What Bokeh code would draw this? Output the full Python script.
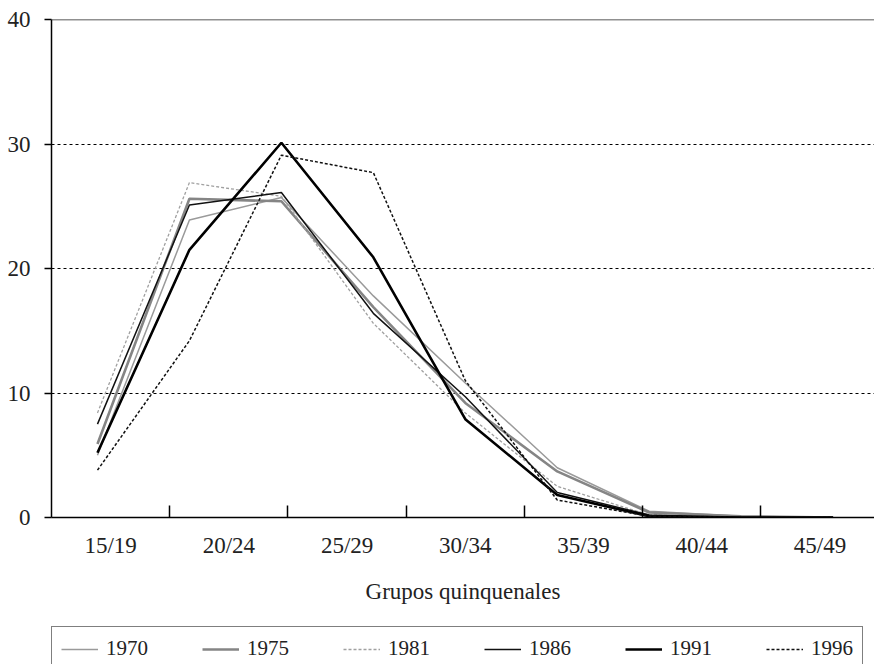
from bokeh.plotting import figure
from bokeh.layouts import column
from bokeh.models import Range1d, FixedTicker, Legend, LegendItem, Span
from bokeh.embed import file_html
from bokeh.resources import INLINE

# ---- data ----
age_groups = ["15/19", "20/24", "25/29", "30/34", "35/39", "40/44", "45/49"]
series_names = ["1970", "1975", "1981", "1986", "1991", "1996"]
y_1970 = [5.0, 23.9, 25.7, 17.8, 10.8, 4.0, 0.5, 0.1, 0.0]
y_1975 = [5.9, 25.6, 25.4, 16.9, 9.2, 3.7, 0.4, 0.1, 0.0]
y_1981 = [8.4, 26.9, 25.8, 15.6, 8.4, 2.5, 0.2, 0.0, 0.0]
y_1986 = [7.5, 25.1, 26.1, 16.4, 9.7, 2.0, 0.2, 0.0, 0.0]
y_1991 = [5.2, 21.5, 30.1, 20.9, 7.9, 1.8, 0.1, 0.0, 0.0]
y_1996 = [3.8, 14.2, 29.1, 27.7, 11.0, 1.4, 0.1, 0.0, 0.0]
y_ticks = [0, 10, 20, 30, 40]

FONT = "Liberation Serif"
n_pts = len(y_1970)
n_cat = len(age_groups)
band = n_pts / n_cat
xs = list(range(n_pts))

p = figure(width=874, height=620, output_backend="svg", toolbar_location=None,
           x_range=Range1d(-0.5, 8.45), y_range=Range1d(0, 40),
           min_border_left=51, min_border_right=0, min_border_top=19,
           min_border_bottom=103)
p.outline_line_color = None
p.background_fill_color = "white"
p.border_fill_color = "white"

# grid
p.xgrid.grid_line_color = None
p.ygrid.ticker = FixedTicker(ticks=[10, 20, 30])
p.ygrid.grid_line_color = "black"
p.ygrid.grid_line_dash = "3 3"
p.ygrid.grid_line_width = 1
p.add_layout(Span(location=40, dimension="width", line_color="#222222", line_width=1.5))

# y axis
p.yaxis.ticker = FixedTicker(ticks=y_ticks)
p.yaxis.minor_tick_line_color = None
p.yaxis.major_tick_in = 0
p.yaxis.major_tick_out = 7
p.yaxis.axis_line_width = 1.5
p.yaxis.major_tick_line_width = 1.5
p.yaxis.major_label_standoff = 14
p.yaxis.major_label_text_font = FONT
p.yaxis.major_label_text_font_size = "23px"
p.yaxis.major_label_text_color = "#222222"

# x axis: labels at band centres, tick marks at band boundaries
centers = [-0.5 + band * (j + 0.5) for j in range(n_cat)]
bounds = [-0.5 + band * j for j in range(1, n_cat + 1)]
p.xaxis.ticker = FixedTicker(ticks=centers, minor_ticks=bounds)
p.xaxis.major_label_overrides = {c: lab for c, lab in zip(centers, age_groups)}
p.xaxis.major_tick_in = 0
p.xaxis.major_tick_out = 0
p.xaxis.minor_tick_in = 12
p.xaxis.minor_tick_out = 0
p.xaxis.minor_tick_line_color = "black"
p.xaxis.minor_tick_line_width = 1.5
p.xaxis.axis_line_width = 1.5
p.xaxis.major_label_standoff = 15
p.xaxis.major_label_text_font = FONT
p.xaxis.major_label_text_font_size = "23px"
p.xaxis.major_label_text_color = "#222222"
p.xaxis.axis_label = "Grupos quinquenales"
p.xaxis.axis_label_text_font = FONT
p.xaxis.axis_label_text_font_style = "normal"
p.xaxis.axis_label_text_font_size = "23px"
p.xaxis.axis_label_text_color = "#222222"
p.xaxis.axis_label_standoff = 18

series = [y_1970, y_1975, y_1981, y_1986, y_1991, y_1996]
styles = [
    ("#9a9a9a", 1.5, "solid"),
    ("#858585", 2.6, "solid"),
    ("#a0a0a0", 1.3, "3 2"),
    ("#111111", 1.5, "solid"),
    ("#000000", 2.6, "solid"),
    ("#111111", 1.5, "3 2"),
]
for ys, (col, lw, dash) in zip(series, styles):
    p.line(xs, ys, line_color=col, line_width=lw, line_dash=dash)

# ---- legend strip (separate figure below; its lines lie outside its view) ----
lg = figure(width=874, height=44, output_backend="svg", toolbar_location=None,
            x_range=Range1d(-0.5, 8.45), y_range=Range1d(100, 101),
            min_border_left=0, min_border_right=0, min_border_top=0,
            min_border_bottom=0)
lg.axis.visible = False
lg.grid.visible = False
lg.outline_line_color = None
lg.border_fill_color = "white"
lg.background_fill_color = "white"
items = []
for name, ys, (col, lw, dash) in zip(series_names, series, styles):
    r = lg.line(xs, ys, line_color=col, line_width=lw, line_dash=dash)
    items.append(LegendItem(label=name, renderers=[r]))
legend = Legend(items=items, orientation="horizontal", location=(0, -7),
                glyph_width=37, label_standoff=8, spacing=54, padding=9,
                margin=0, border_line_color="black", border_line_width=1,
                label_text_font=FONT, label_text_font_size="21px",
                label_text_color="#222222", background_fill_alpha=1)
lg.add_layout(legend, "center")

layout = column(p, lg, spacing=0)
open("out.html", "w").write(file_html(layout, INLINE))
